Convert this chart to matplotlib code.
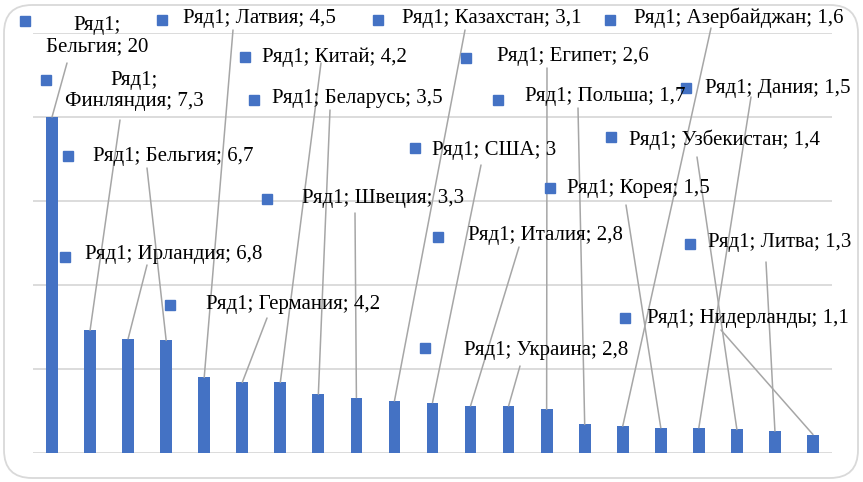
import matplotlib

matplotlib.use("Agg")
import matplotlib.pyplot as plt
from matplotlib.lines import Line2D
from matplotlib.patches import FancyBboxPatch
from matplotlib.transforms import IdentityTransform


# data
series_name = "Ряд1"
countries = [
    "Бельгия", "Финляндия", "Ирландия", "Бельгия", "Латвия", "Германия", "Китай",
    "Беларусь", "Швеция", "Казахстан", "США", "Италия", "Украина", "Египет",
    "Польша", "Азербайджан", "Корея", "Дания", "Узбекистан", "Литва", "Нидерланды",
]
values = [20, 7.3, 6.8, 6.7, 4.5, 4.2, 4.2, 3.5, 3.3, 3.1, 3, 2.8, 2.8, 2.6,
          1.7, 1.6, 1.5, 1.5, 1.4, 1.3, 1.1]

# layout of the data labels, in picture pixels from the top-left corner:
# marker (x, y), text anchor (x, y), leader line start (x, y), wrapped?
label_layout = [
    ((25, 21), (97, 36), (67, 63), True),
    ((46, 80), (134, 91), (120, 120), True),
    ((65, 257), (85, 255), (147, 265), False),
    ((68, 156), (93, 156), (147, 168), False),
    ((162, 20), (183, 19), (233, 30), False),
    ((170, 305), (206, 305), (267, 318), False),
    ((245, 57), (262, 57), (321, 63), False),
    ((254, 100), (272, 99), (330, 110), False),
    ((267, 199), (302, 199), (355, 213), False),
    ((378, 20), (402, 19), (465, 30), False),
    ((415, 148), (432, 150), (481, 165), False),
    ((438, 237), (468, 235), (519, 247), False),
    ((425, 348), (464, 350), (520, 366), False),
    ((466, 58), (497, 57), (547, 68), False),
    ((498, 100), (525, 97), (578, 108), False),
    ((610, 20), (634, 18), (711, 28), False),
    ((550, 188), (567, 188), (626, 205), False),
    ((686, 88), (705, 88), (751, 97), False),
    ((611, 137), (629, 140), (697, 157), False),
    ((690, 244), (708, 243), (766, 262), False),
    ((625, 318), (647, 319), (721, 330), False),
]

W, H = 863, 482
BAR_COLOR = "#4472c4"
GRID_COLOR = "#d9d9d9"
LEADER_COLOR = "#a6a6a6"
FONT = "Liberation Serif"
FONT_SIZE = 15


def fig_xy(px, py):
    return px / W, 1 - py / H


fig = plt.figure(figsize=(W / 100, H / 100), dpi=100)
ax = fig.add_axes([33 / W, (H - 453) / H, 799 / W, 420 / H])

x = list(range(len(values)))
ax.bar(x, values, width=0.31, color=BAR_COLOR, zorder=2)
ax.set_xlim(-0.5, len(values) - 0.5)
ax.set_ylim(0, 25)
ax.set_yticks([0, 5, 10, 15, 20, 25])
ax.yaxis.grid(True, color=GRID_COLOR, linewidth=1.3)
ax.set_axisbelow(True)
ax.tick_params(length=0, labelleft=False, labelbottom=False)
ax.set_xticks([])
for spine in ax.spines.values():
    spine.set_visible(False)

for i, (name, val) in enumerate(zip(countries, values)):
    marker_pos, text_pos, line_pos, wrapped = label_layout[i]
    value_txt = f"{val:g}".replace(".", ",")

    ax.annotate(
        "",
        xy=(i, val),
        xycoords="data",
        xytext=fig_xy(*line_pos),
        textcoords="figure fraction",
        arrowprops={"arrowstyle": "-", "color": LEADER_COLOR, "lw": 1.1,
                    "shrinkA": 0, "shrinkB": 0},
        annotation_clip=False,
        zorder=3,
    )

    mx, my = fig_xy(*marker_pos)
    fig.add_artist(Line2D([mx], [my], marker="s", markersize=6.8, color=BAR_COLOR,
                          linestyle="none", transform=fig.transFigure))

    tx, ty = fig_xy(*text_pos)
    if wrapped:
        fig.text(tx, ty, f"{series_name};\n{name}; {value_txt}", ha="center", va="center",
                 fontsize=FONT_SIZE, family=FONT, linespacing=1.15)
    else:
        fig.text(tx, ty, f"{series_name}; {name}; {value_txt}", ha="left", va="center",
                 fontsize=FONT_SIZE, family=FONT)

border = FancyBboxPatch((4, 4), W - 9, H - 9, boxstyle="round,pad=0,rounding_size=28",
                        transform=IdentityTransform(), facecolor="none",
                        edgecolor=GRID_COLOR, linewidth=1.3)
fig.add_artist(border)

fig.savefig("out.png", dpi=100)
